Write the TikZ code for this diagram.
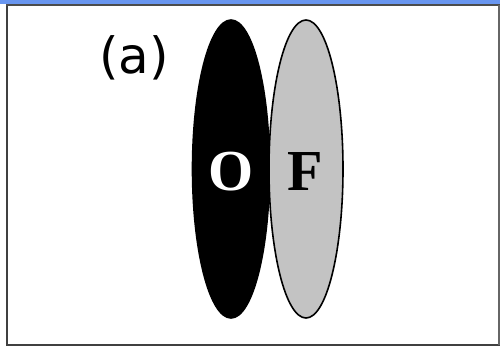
\documentclass[tikz,border=0pt]{standalone}
\usepackage{fontspec}
\setmainfont{Liberation Serif}
\newfontfamily\labelfont{DejaVu Sans}
\definecolor{barblue}{RGB}{105,150,240}
\definecolor{lightgray}{RGB}{195,195,195}
\begin{document}
\begin{tikzpicture}[x=1pt,y=-1pt,
  lobe/.style={draw=black,line width=1.6pt},
  letter/.style={font=\fontsize{58}{58}\selectfont\bfseries}]
\useasboundingbox (0,0) rectangle (500,349);
\fill[white] (0,0) rectangle (500,349);
\fill[barblue] (0,0) rectangle (500,3.5);
\draw[line width=2.5pt,draw=black!75] (7,5) -- (7,345) -- (500,345);
\draw[line width=1.5pt,draw=black!70] (6,5) -- (500,5);
\draw[line width=1.2pt,draw=black!60] (499,5) -- (499,345);
\node[font=\labelfont\fontsize{50}{50}\selectfont] (lab) at (134,58) {(a)};
\draw[lobe,fill=black] (231,169) ellipse [x radius=38.5, y radius=149];
\draw[lobe,fill=lightgray] (306,169) ellipse [x radius=37, y radius=149];
\node[letter,text=white] (O) at (231,172) {O};
\node[letter,text=black] (F) at (305,172) {F};
\end{tikzpicture}
\end{document}
